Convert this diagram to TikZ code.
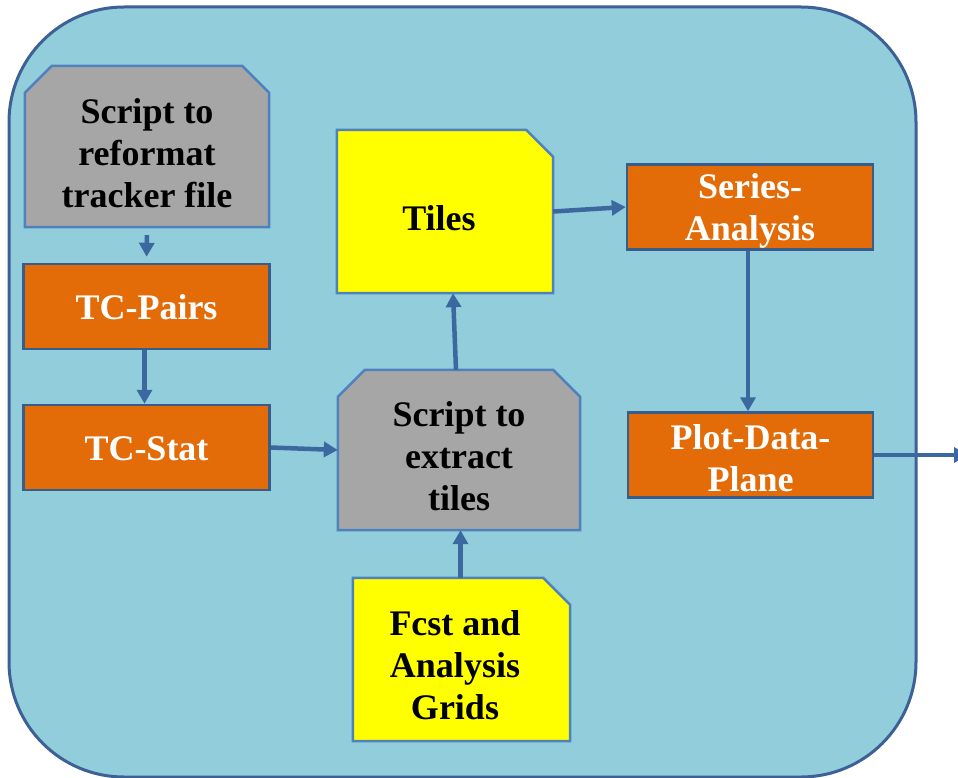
\documentclass[tikz,border=0pt]{standalone}
\usepackage{fontspec}
\setmainfont{Liberation Serif}
\usetikzlibrary{arrows.meta}
\pgfdeclarelayer{bg}
\pgfdeclarelayer{shp}
\pgfsetlayers{bg,shp,main}
\definecolor{bgfill}{HTML}{92CDDC}
\definecolor{bgline}{HTML}{3D6196}
\definecolor{boxline}{HTML}{4F81BD}
\definecolor{orgfill}{HTML}{E36C09}
\definecolor{orgline}{HTML}{385D8A}
\definecolor{grayfill}{HTML}{A6A6A6}
\definecolor{yelfill}{HTML}{FFFF00}
\definecolor{arrcol}{HTML}{3C68A0}
\tikzset{
  txt/.style={font=\bfseries\fontsize{36}{42}\selectfont, align=center, inner sep=0pt},
  orangebox/.style={fill=orgfill, draw=orgline, line width=2.5pt, minimum width=246pt, minimum height=85pt, inner sep=0pt},
  whitetxt/.style={txt, text=white},
  blacktxt/.style={txt, text=black},
  shapebox/.style={inner sep=0pt},
  shapeline/.style={line width=2.5pt, draw=boxline, line join=miter},
  conn/.style={draw=arrcol, line width=4.5pt, -{Triangle[length=14pt,width=15pt]}}
}
\begin{document}
\begin{tikzpicture}[x=1pt,y=-1pt]
\useasboundingbox (0,0) rectangle (958,778);
\clip (0,0) rectangle (958,778);
\begin{pgfonlayer}{bg}
\draw[fill=bgfill, draw=bgline, line width=3pt, rounded corners=115pt] (9,7) rectangle (916,777);
\end{pgfonlayer}
% boxes
\node[shapebox, minimum width=244pt, minimum height=161pt] (s1) at (147,146.5) {};
\node[orangebox] (pairs) at (146.5,306.5) {};
\node[orangebox] (stat) at (146.5,447.5) {};
\node[shapebox, minimum width=242pt, minimum height=160pt] (s2) at (459,450) {};
\node[shapebox, minimum width=216pt, minimum height=163pt] (tiles) at (445,211.5) {};
\node[shapebox, minimum width=217pt, minimum height=163pt] (grids) at (461.5,659.5) {};
\node[orangebox] (series) at (750,207) {};
\node[orangebox, minimum width=245pt] (plot) at (750.5,455) {};
\coordinate (out) at (968,455);
% texts
\node[blacktxt] (s1t) at (147,153) {Script to\\reformat\\tracker file};
\node[whitetxt] (pairst) at (146.5,307.5) {TC-Pairs};
\node[whitetxt] (statt) at (146.5,448.5) {TC-Stat};
\node[blacktxt] (s2t) at (459,456) {Script to\\extract\\tiles};
\node[blacktxt] (tilest) at (439,218) {Tiles};
\node[blacktxt] (gridst) at (455,665.5) {Fcst and\\Analysis\\Grids};
\node[whitetxt] (seriest) at (750,211) {Series-\\Analysis};
\node[whitetxt] (plott) at (750.5,458) {Plot-Data-\\Plane};
% shapes
\begin{pgfonlayer}{shp}
\path[shapeline, fill=grayfill] (s1.south west) -- ([yshift=-27pt]s1.north west) -- ([xshift=27pt]s1.north west) -- ([xshift=-27pt]s1.north east) -- ([yshift=-27pt]s1.north east) -- (s1.south east) -- cycle;
\path[shapeline, fill=grayfill] (s2.south west) -- ([yshift=-27pt]s2.north west) -- ([xshift=27pt]s2.north west) -- ([xshift=-27pt]s2.north east) -- ([yshift=-27pt]s2.north east) -- (s2.south east) -- cycle;
\path[shapeline, fill=yelfill] (tiles.south west) -- (tiles.north west) -- ([xshift=-27pt]tiles.north east) -- ([yshift=-27pt]tiles.north east) -- (tiles.south east) -- cycle;
\path[shapeline, fill=yelfill] (grids.south west) -- (grids.north west) -- ([xshift=-27pt]grids.north east) -- ([yshift=-27pt]grids.north east) -- (grids.south east) -- cycle;
\end{pgfonlayer}
% connectors
\draw[conn, shorten <=8pt, shorten >=6pt] (s1.south) -- (pairs.north);
\draw[conn] ([xshift=-2pt]pairs.south) -- ([xshift=-2pt]stat.north);
\draw[conn] (stat.east) -- (s2.west);
\draw[conn] ([xshift=-3pt]s2.north) -- ([xshift=8pt]tiles.south);
\draw[conn] (tiles.east) -- (series.west);
\draw[conn] ([xshift=-2pt]series.south) -- ([xshift=-2.5pt]plot.north);
\draw[conn] (plot.east) -- (out);
\draw[conn] ([xshift=-1pt]grids.north) -- ([xshift=1.5pt]s2.south);
\end{tikzpicture}
\end{document}
